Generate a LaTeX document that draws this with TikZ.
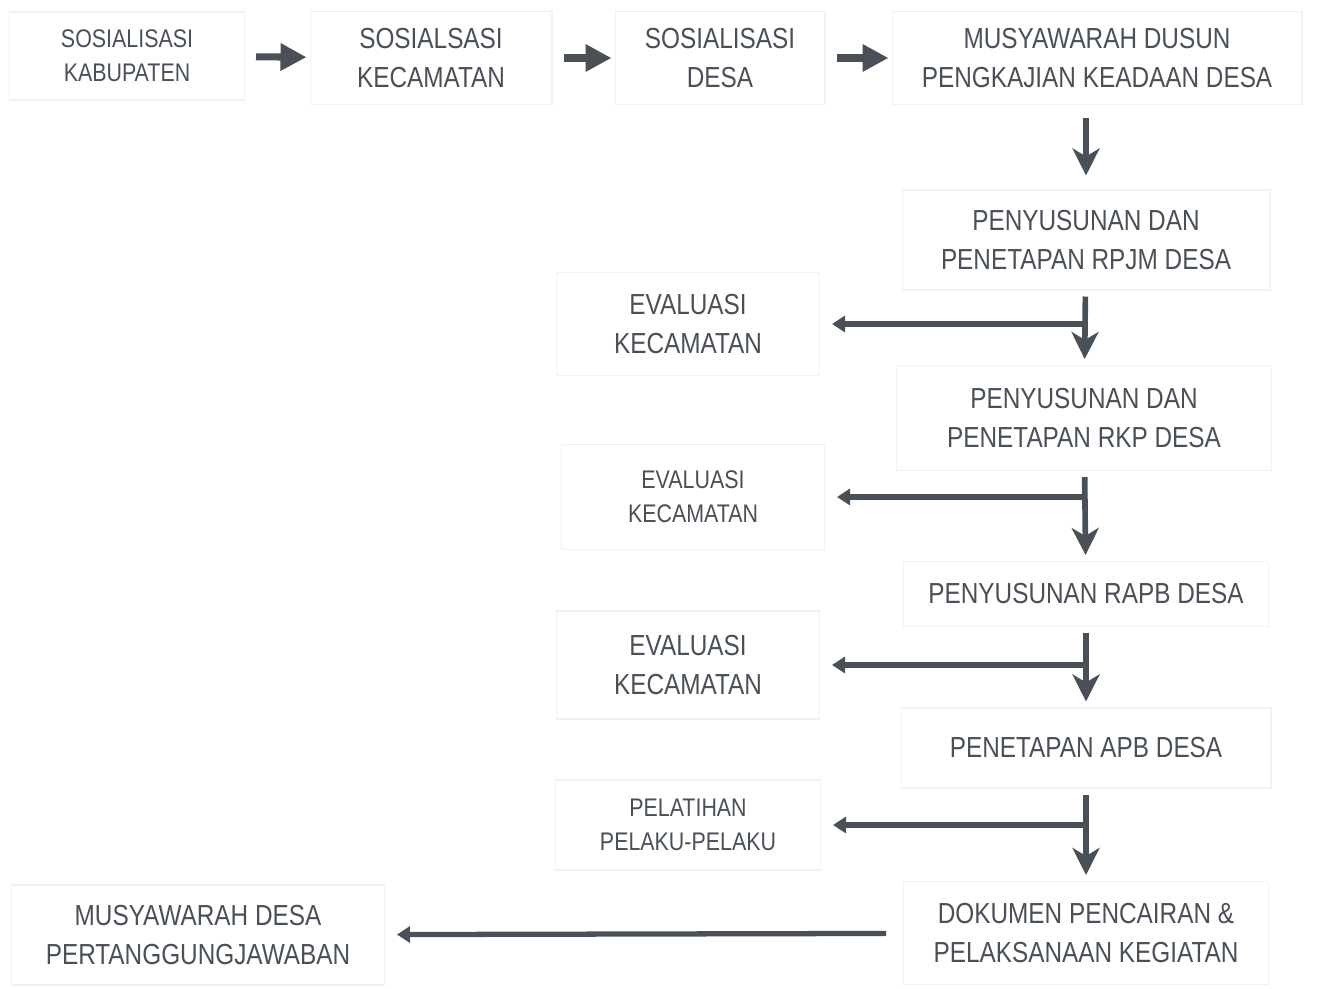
\documentclass[tikz,border=0pt]{standalone}
\usepackage{fontspec}
\setmainfont{Liberation Sans}[FakeStretch=0.84]
\usetikzlibrary{arrows.meta}

\definecolor{inkgray}{RGB}{74,80,87}
\definecolor{boxline}{RGB}{242,242,242}

\tikzset{
	box/.style={draw=boxline,line width=0.6pt,inner sep=0pt,align=center,text=inkgray,
		font=\fontsize{16.5}{22}\selectfont},
	smallbox/.style={box,font=\fontsize{14.5}{19.5}\selectfont},
	rightarr/.style={draw=inkgray,line width=4pt,-{Triangle[length=0.52cm,width=0.52cm]}},
	downarr/.style={draw=inkgray,line width=3.2pt,-{Stealth[length=0.54cm,width=0.54cm,inset=0.16cm]}},
	sidearr/.style={draw=inkgray,line width=3pt,-{Triangle[length=0.26cm,width=0.32cm]}}
}

\begin{document}
\begin{tikzpicture}[x=0.02cm,y=-0.02cm]
\useasboundingbox[fill=white] (0,0) rectangle (1331,989);

\node[smallbox,minimum width=4.7cm,minimum height=1.76cm] (kab) at (127,56){SOSIALISASI\\KABUPATEN};
\node[box,minimum width=4.84cm,minimum height=1.86cm] (kec) at (431,58){SOSIALSASI\\KECAMATAN};
\node[box,minimum width=4.2cm,minimum height=1.86cm] (desa) at (720,58){SOSIALISASI\\DESA};
\node[box,minimum width=8.2cm,minimum height=1.86cm] (musdus) at (1097,58){MUSYAWARAH DUSUN\\PENGKAJIAN KEADAAN DESA};

\node[box,minimum width=7.36cm,minimum height=2cm] (rpjm) at (1086,240){PENYUSUNAN DAN\\PENETAPAN RPJM DESA};
\node[box,minimum width=7.5cm,minimum height=2.1cm] (rkp) at (1084,418){PENYUSUNAN DAN\\PENETAPAN RKP DESA};
\node[box,minimum width=7.3cm,minimum height=1.3cm] (rapb) at (1086,594){PENYUSUNAN RAPB DESA};
\node[box,minimum width=7.4cm,minimum height=1.6cm] (apb) at (1086,748){PENETAPAN APB DESA};
\node[box,minimum width=7.3cm,minimum height=2.06cm] (dok) at (1086,933){DOKUMEN PENCAIRAN \&\\PELAKSANAAN KEGIATAN};

\node[box,minimum width=5.26cm,minimum height=2.06cm] (eval1) at (688,324){EVALUASI\\KECAMATAN};
\node[smallbox,minimum width=5.26cm,minimum height=2.1cm] (eval2) at (693,497){EVALUASI\\KECAMATAN};
\node[box,minimum width=5.26cm,minimum height=2.16cm] (eval3) at (688,665){EVALUASI\\KECAMATAN};
\node[smallbox,minimum width=5.3cm,minimum height=1.8cm] (pel) at (688,825){PELATIHAN\\PELAKU-PELAKU};

\node[box,minimum width=7.46cm,minimum height=2cm] (musdes) at (198,935){MUSYAWARAH DESA\\PERTANGGUNGJAWABAN};

\foreach \a/\b in {kab/kec,kec/desa,desa/musdus}
{
	\draw[rightarr,shorten <=0.22cm,shorten >=0.06cm] (\a) -- (\b);
}

\draw[downarr,shorten <=0.26cm,shorten >=0.28cm] (rpjm |- musdus.south) -- (rpjm.north);

\foreach \a/\b/\e in {rpjm/rkp/eval1,rkp/rapb/eval2,rapb/apb/eval3,apb/dok/pel}
{
	\draw[downarr,shorten <=0.12cm,shorten >=0.12cm] (\a) -- (\b);
	\draw[sidearr,shorten >=0.24cm] (\e -| \a) -- (\e);
}

\draw[sidearr,shorten <=0.34cm,shorten >=0.24cm] (dok) -- (musdes);

\end{tikzpicture}
\end{document}
